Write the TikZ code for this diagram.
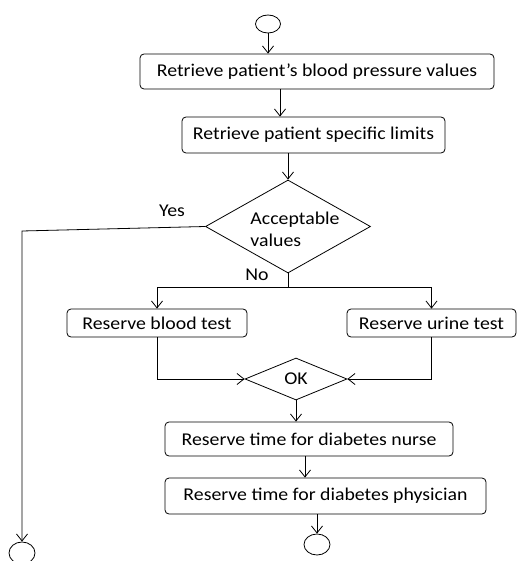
\documentclass[tikz,border=0pt]{standalone}
\usepackage{fontspec}
\setmainfont{Carlito}[FakeStretch=1.1]
\usetikzlibrary{shapes.geometric,arrows.meta}

\tikzset{
  act/.style={draw, rounded corners=4pt, inner sep=0pt},
  choice/.style={draw, diamond, inner sep=0pt},
  endpoint/.style={draw, ellipse, inner sep=0pt},
  flow/.style={-{Straight Barb[length=7pt,width=11pt]}},
}

\begin{document}
\begin{tikzpicture}[x=1pt, y=-1pt, line width=0.8pt, font=\fontsize{18}{22}\selectfont]
                        \useasboundingbox (0,0) rectangle (517,561);

                        \node[endpoint, minimum width=25pt, minimum height=18pt] (start) at (268,24) {};
                        \node[act, minimum width=354pt, minimum height=35pt] (getbp) at (317,71.5) {Retrieve patient’s blood pressure values};
                        \node[act, minimum width=263pt, minimum height=36pt] (getlim) at (313.5,135) {Retrieve patient specific limits};

                        \node[choice, minimum width=165pt, minimum height=93pt] (check) at (288,226.5) {};
                        \node[align=left] (checktext) at (295,229) {Acceptable\\values};
                        \node (yes) at (172,211) {Yes};
                        \node (no) at (257,275) {No};

                        \node[act, minimum width=180pt, minimum height=28pt] (blood) at (157,323) {Reserve blood test};
                        \node[act, minimum width=169pt, minimum height=28pt] (urine) at (431.5,323) {Reserve urine test};
                        \node[choice, minimum width=102pt, minimum height=42pt] (ok) at (296,379) {OK};

                        \node[act, minimum width=288pt, minimum height=34pt] (nurse) at (309,439) {Reserve time for diabetes nurse};
                        \node[act, minimum width=321pt, minimum height=36pt] (doctor) at (325.5,496) {Reserve time for diabetes physician};
                        \node[endpoint, minimum width=26pt, minimum height=21pt] (stop) at (317,544.5) {};
                        \node[endpoint, minimum width=26pt, minimum height=22pt] (stopyes) at (22,553) {};

                        \coordinate (bend) at (22,231);
                        \path (check.south) ++(0,14) coordinate (split);

                        \draw[flow] (start.south) -- (start.south |- getbp.north);
                        \draw[flow] ([xshift=-37pt]getbp.south) -- ([xshift=-37pt]getbp.south |- getlim.north);
                        \draw[flow] (getlim.south -| check.north) -- (check.north);

                        \draw[flow] (check.west) -- (bend) -- (stopyes.north);
                        \draw (check.south) -- (split);
                        \draw[flow] (split) -| (blood.north);
                        \draw[flow] (split) -| (urine.north);

                        \draw[flow] (blood.south) |- (ok.west);
                        \draw[flow] (urine.south) |- (ok.east);
                        \draw[flow] (ok.south) -- (ok.south |- nurse.north);
                        \draw[flow] ([xshift=-4pt]nurse.south) -- ([xshift=-4pt]nurse.south |- doctor.north);
                        \draw[flow] (doctor.south -| stop.north) -- (stop.north);
                    \end{tikzpicture}
\end{document}
